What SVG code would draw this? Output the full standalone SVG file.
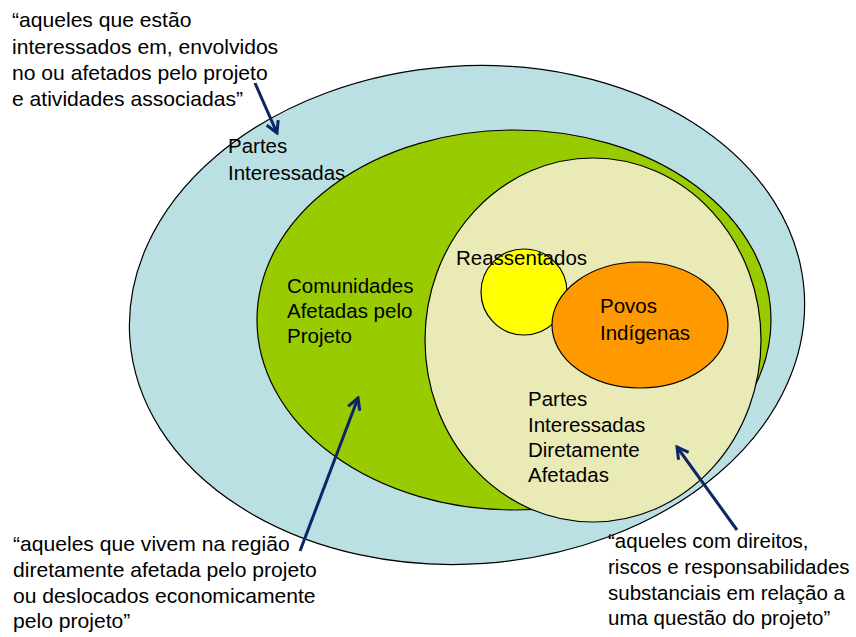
<svg xmlns="http://www.w3.org/2000/svg" width="856" height="637" viewBox="0 0 856 637">
<style>
  .t { font-family: "Liberation Sans", Arial, sans-serif; font-size: 20.5px; fill: #000; }
  .n { font-size: 21.1px; }
  .sh { stroke: #000; stroke-width: 1.2; }
  .arr { stroke: #0D2566; stroke-width: 3; fill: none; marker-end: url(#ah); }
</style>
<defs>
  <marker id="ah" viewBox="0 0 12 12" refX="10" refY="6" markerWidth="5" markerHeight="5" orient="auto" markerUnits="strokeWidth">
    <path d="M1,1 L10,6 L1,11" fill="none" stroke="#0D2566" stroke-width="2.4" stroke-linejoin="miter"/>
  </marker>
</defs>
<rect width="856" height="637" fill="#fff"/>
<g id="partes-interessadas">
  <ellipse class="sh" cx="467" cy="315" rx="338" ry="249" transform="rotate(-4 467 315)" fill="#BBE0E3"/>
  <text class="t" x="228" y="153">Partes</text>
  <text class="t" x="228" y="180">Interessadas</text>
</g>
<g id="comunidades-afetadas">
  <ellipse class="sh" cx="514" cy="320" rx="257" ry="190" fill="#99CC00"/>
  <text class="t" x="287" y="293">Comunidades</text>
  <text class="t" x="287" y="318">Afetadas pelo</text>
  <text class="t" x="287" y="343">Projeto</text>
</g>
<g id="diretamente-afetadas">
  <ellipse class="sh" cx="593" cy="340" rx="168" ry="182" fill="#EAEAB6"/>
  <text class="t" x="528" y="406">Partes</text>
  <text class="t" x="528" y="432">Interessadas</text>
  <text class="t" x="528" y="457">Diretamente</text>
  <text class="t" x="528" y="482">Afetadas</text>
</g>
<g id="reassentados">
  <circle class="sh" cx="524" cy="292" r="43" fill="#FFFF00"/>
  <text class="t" x="456" y="265">Reassentados</text>
</g>
<g id="povos-indigenas">
  <ellipse class="sh" cx="640" cy="325" rx="88" ry="63" fill="#FF9900"/>
  <text class="t" x="600" y="313">Povos</text>
  <text class="t" x="600" y="340">Indígenas</text>
</g>
<g id="nota-partes">
  <text class="t n" x="12" y="27">“aqueles que estão</text>
  <text class="t n" x="12" y="54">interessados em, envolvidos</text>
  <text class="t n" x="12" y="80">no ou afetados pelo projeto</text>
  <text class="t n" x="12" y="106">e atividades associadas”</text>
</g>
<g id="nota-comunidades">
  <text class="t n" x="13" y="551">“aqueles que vivem na região</text>
  <text class="t n" x="13" y="577">diretamente afetada pelo projeto</text>
  <text class="t n" x="13" y="603">ou deslocados economicamente</text>
  <text class="t n" x="13" y="628">pelo projeto”</text>
</g>
<g id="nota-diretamente">
  <text class="t" x="608" y="548">“aqueles com direitos,</text>
  <text class="t" x="608" y="574">riscos e responsabilidades</text>
  <text class="t" x="608" y="600">substanciais em relação a</text>
  <text class="t" x="608" y="625">uma questão do projeto”</text>
</g>
<g id="connectors">
  <line class="arr" x1="255" y1="83" x2="277" y2="133"/>
  <line class="arr" x1="300" y1="551" x2="358" y2="398"/>
  <line class="arr" x1="737" y1="530" x2="677" y2="447"/>
</g>
</svg>
